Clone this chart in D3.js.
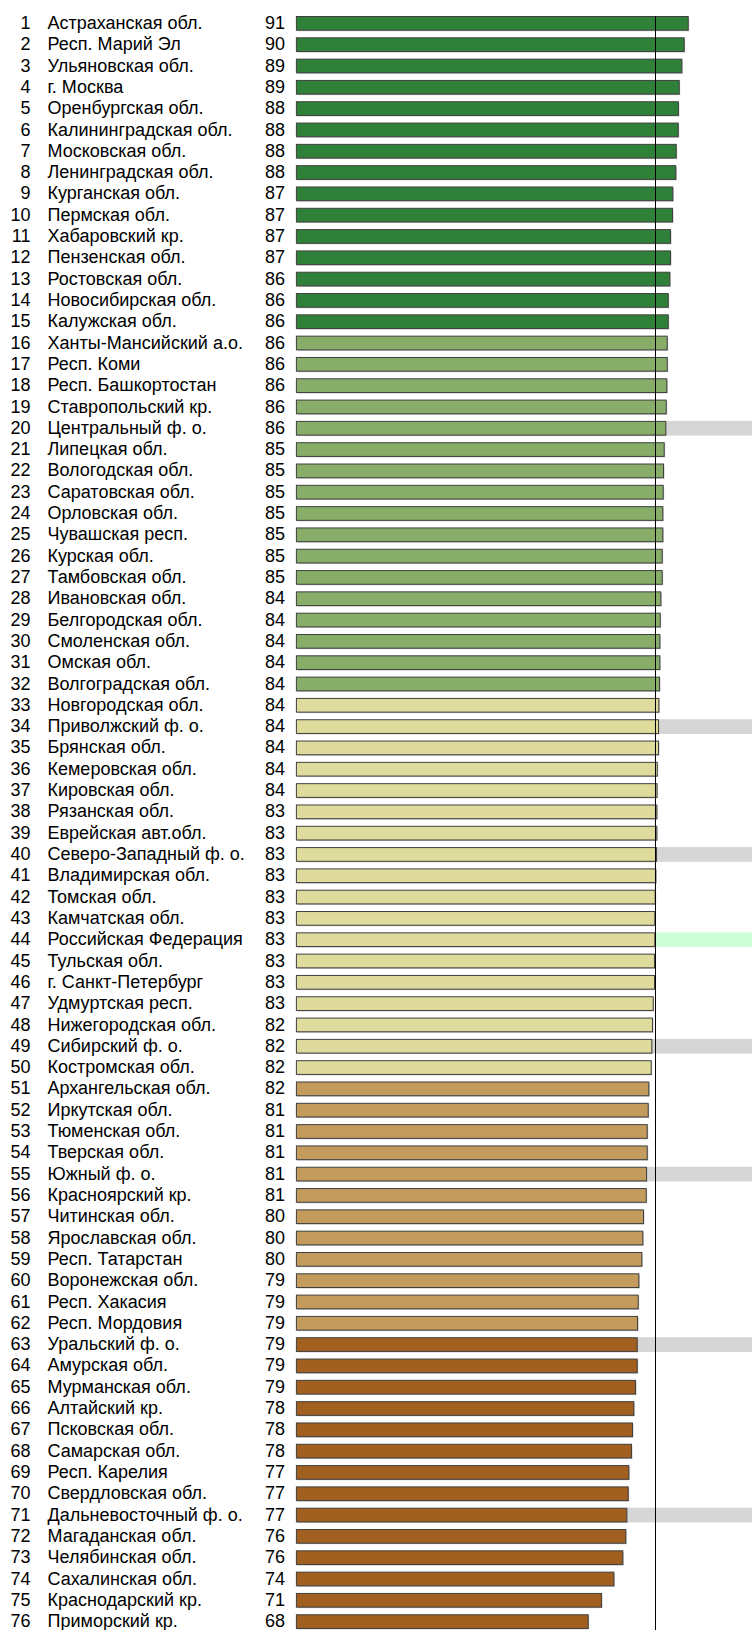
<!DOCTYPE html>
<html>
<head>
<meta charset="utf-8">
<script src="https://cdn.jsdelivr.net/npm/d3@7"></script>
<style>
    body { margin: 0; background: #ffffff; }
    svg { display: block; }
</style>
</head>
<body>
<div id="chart"></div>
<script>
// regions, in rank order
var regions = [
    "Астраханская обл.", "Респ. Марий Эл", "Ульяновская обл.", "г. Москва", "Оренбургская обл.",
    "Калининградская обл.", "Московская обл.", "Ленинградская обл.", "Курганская обл.", "Пермская обл.",
    "Хабаровский кр.", "Пензенская обл.", "Ростовская обл.", "Новосибирская обл.", "Калужская обл.",
    "Ханты-Мансийский а.о.", "Респ. Коми", "Респ. Башкортостан", "Ставропольский кр.", "Центральный ф. о.",
    "Липецкая обл.", "Вологодская обл.", "Саратовская обл.", "Орловская обл.", "Чувашская респ.",
    "Курская обл.", "Тамбовская обл.", "Ивановская обл.", "Белгородская обл.", "Смоленская обл.",
    "Омская обл.", "Волгоградская обл.", "Новгородская обл.", "Приволжский ф. о.", "Брянская обл.",
    "Кемеровская обл.", "Кировская обл.", "Рязанская обл.", "Еврейская авт.обл.", "Северо-Западный ф. о.",
    "Владимирская обл.", "Томская обл.", "Камчатская обл.", "Российская Федерация", "Тульская обл.",
    "г. Санкт-Петербург", "Удмуртская респ.", "Нижегородская обл.", "Сибирский ф. о.", "Костромская обл.",
    "Архангельская обл.", "Иркутская обл.", "Тюменская обл.", "Тверская обл.", "Южный ф. о.",
    "Красноярский кр.", "Читинская обл.", "Ярославская обл.", "Респ. Татарстан", "Воронежская обл.",
    "Респ. Хакасия", "Респ. Мордовия", "Уральский ф. о.", "Амурская обл.", "Мурманская обл.",
    "Алтайский кр.", "Псковская обл.", "Самарская обл.", "Респ. Карелия", "Свердловская обл.",
    "Дальневосточный ф. о.", "Магаданская обл.", "Челябинская обл.", "Сахалинская обл.", "Краснодарский кр.",
    "Приморский кр."
];

// values (labels are rounded)
var values = [
    90.72, 89.79, 89.24, 88.64, 88.45, 88.41, 87.94, 87.85, 87.16, 87.09,
    86.63, 86.63, 86.47, 86.10, 86.10, 85.87, 85.87, 85.77, 85.64, 85.54,
    85.17, 85.01, 84.94, 84.85, 84.85, 84.71, 84.71, 84.39, 84.25, 84.16,
    84.16, 84.09, 83.93, 83.86, 83.86, 83.56, 83.51, 83.47, 83.46, 83.39,
    83.23, 83.09, 83.00, 83.00, 82.93, 82.93, 82.63, 82.47, 82.31, 82.17,
    81.62, 81.48, 81.25, 81.25, 81.09, 81.02, 80.39, 80.23, 80.00, 79.31,
    79.17, 79.01, 78.94, 78.94, 78.55, 78.15, 77.85, 77.62, 77.00, 76.86,
    76.54, 76.30, 75.61, 73.55, 70.69, 67.62
];

// last rank of each colour group
var groupEnds = [15, 32, 50, 62, 76];
var groupColors = ["#2f8139", "#88ad69", "#dfdb9d", "#c29b5d", "#a15f20"];

// federal districts and the whole country
var districtRanks = [20, 34, 40, 49, 55, 63, 71];
var countryRank = 44;

var W = 752, H = 1630;

var data = regions.map(function (name, i) {
    return { rank: i + 1, name: name, value: values[i] };
});

var x = d3.scaleLinear()
    .domain([0, 100])
    .range([295.9, 728.9]);

var y = d3.scaleBand()
    .domain(data.map(d => d.rank))
    .range([12.7, 12.7 + 76 * 21.31])
    .paddingInner(0.31)
    .paddingOuter(0.155);

function groupOf(rank) {
    for (var g = 0; g < groupEnds.length; g++) {
        if (rank <= groupEnds[g]) return g;
    }
    return groupEnds.length - 1;
}

var svg = d3.select("#chart")
    .append("svg")
    .attr("width", W)
    .attr("height", H)
    .style("font-family", "'Liberation Sans', Arial, sans-serif")
    .style("font-size", "18px");

// gray / green strips to the right of districts and country
svg.selectAll("rect.strip")
    .data(data.filter(d => districtRanks.indexOf(d.rank) >= 0 || d.rank === countryRank))
    .enter()
    .append("rect")
    .attr("class", "strip")
    .attr("x", d => x(d.value))
    .attr("y", d => y(d.rank))
    .attr("width", d => W - x(d.value))
    .attr("height", y.bandwidth())
    .attr("fill", d => d.rank === countryRank ? "#ccfed7" : "#d6d6d6");

// shadow under every bar
svg.selectAll("rect.shadow")
    .data(data)
    .enter()
    .append("rect")
    .attr("class", "shadow")
    .attr("x", x(0) + 1.5)
    .attr("y", d => y(d.rank) + 1.5)
    .attr("width", d => x(d.value) - x(0) - 1)
    .attr("height", y.bandwidth() - 1)
    .attr("fill", "#c4c4c4");

// bars
svg.selectAll("rect.bar")
    .data(data)
    .enter()
    .append("rect")
    .attr("class", "bar")
    .attr("x", x(0) + 0.5)
    .attr("y", d => y(d.rank) + 0.5)
    .attr("width", d => x(d.value) - x(0) - 1)
    .attr("height", y.bandwidth() - 1)
    .attr("fill", d => groupColors[groupOf(d.rank)])
    .attr("stroke", "#404040")
    .attr("stroke-width", 1);

// reference line at the country value
var lineX = Math.round(x(values[countryRank - 1])) + 0.5;
svg.append("line")
    .attr("x1", lineX)
    .attr("x2", lineX)
    .attr("y1", y(1))
    .attr("y2", H)
    .attr("stroke", "#000")
    .attr("stroke-width", 1);

// rank, name, value
var rows = svg.selectAll("g.row")
    .data(data)
    .enter()
    .append("g")
    .attr("class", "row")
    .attr("transform", d => "translate(0," + (y(d.rank) + y.bandwidth() / 2 + 5.6) + ")");

rows.append("text")
    .attr("x", 30.5)
    .attr("text-anchor", "end")
    .text(d => d.rank);

rows.append("text")
    .attr("x", 47.5)
    .text(d => d.name);

rows.append("text")
    .attr("x", 285)
    .attr("text-anchor", "end")
    .text(d => Math.round(d.value));
</script>
</body>
</html>
